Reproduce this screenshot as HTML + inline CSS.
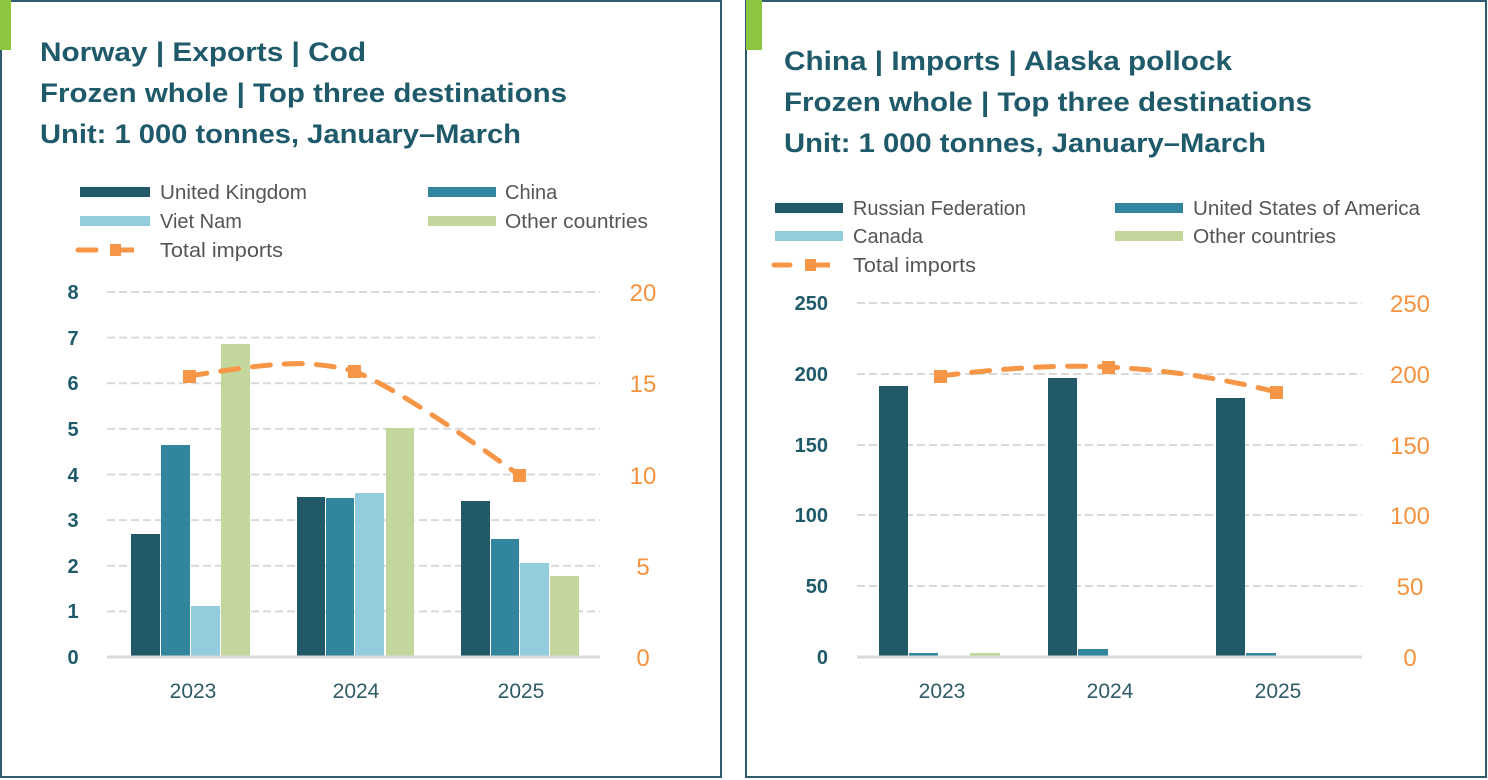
<!DOCTYPE html>
<html><head><meta charset="utf-8"><style>
html,body{margin:0;padding:0;background:#fff;width:1488px;height:780px;overflow:hidden}
svg{display:block}
.t{font-family:"Liberation Sans Narrow","Liberation Sans",sans-serif;font-weight:bold;fill:#1f5a6b;font-size:27px}
.lg{font-family:"Liberation Sans Narrow","Liberation Sans",sans-serif;fill:#555;font-size:20px}
.yl{font-family:"Liberation Sans",sans-serif;font-weight:bold;fill:#1f5a6b;font-size:20px}
.yr{font-family:"Liberation Sans",sans-serif;fill:#f4923f;font-size:24px}
.xl{font-family:"Liberation Sans Narrow","Liberation Sans",sans-serif;fill:#2e5b66;font-size:21px}
.g{stroke:#d9d9d9;stroke-width:2;stroke-dasharray:8,4}
</style></head><body>
<svg width="1488" height="780" xmlns="http://www.w3.org/2000/svg">
<rect x="1" y="1" width="720" height="776" fill="#fff" stroke="#2e5b70" stroke-width="2"/>
<rect x="746" y="1" width="740" height="776" fill="#fff" stroke="#2e5b70" stroke-width="2"/>
<rect x="0" y="0" width="11" height="50" fill="#8cc63f"/>
<rect x="746" y="0" width="16" height="50" fill="#8cc63f"/>

<text class="t" x="40" y="61" textLength="326" lengthAdjust="spacingAndGlyphs">Norway | Exports | Cod</text>
<text class="t" x="40" y="102" textLength="527" lengthAdjust="spacingAndGlyphs">Frozen whole | Top three destinations</text>
<text class="t" x="40" y="143" textLength="481" lengthAdjust="spacingAndGlyphs">Unit: 1 000 tonnes, January–March</text>

<rect x="80" y="187" width="70" height="10" fill="#215968"/>
<text class="lg" x="160" y="199" textLength="147" lengthAdjust="spacingAndGlyphs">United Kingdom</text>
<rect x="428" y="187" width="68" height="10" fill="#31859c"/>
<text class="lg" x="505" y="199">China</text>
<rect x="80" y="216" width="70" height="10" fill="#93cddd"/>
<text class="lg" x="160" y="228">Viet Nam</text>
<rect x="428" y="216" width="68" height="10" fill="#c3d69b"/>
<text class="lg" x="505" y="228" textLength="143" lengthAdjust="spacingAndGlyphs">Other countries</text>
<line x1="78" y1="250" x2="96" y2="250" stroke="#f79646" stroke-width="5" stroke-linecap="round"/>
<rect x="110" y="244" width="11" height="12" fill="#f79646"/>
<line x1="118" y1="250" x2="134" y2="250" stroke="#f79646" stroke-width="5"/>
<text class="lg" x="160" y="257" textLength="123" lengthAdjust="spacingAndGlyphs">Total imports</text>

<g>
<line class="g" x1="107" y1="292" x2="600" y2="292"/>
<line class="g" x1="107" y1="337.6" x2="600" y2="337.6"/>
<line class="g" x1="107" y1="383.3" x2="600" y2="383.3"/>
<line class="g" x1="107" y1="428.9" x2="600" y2="428.9"/>
<line class="g" x1="107" y1="474.5" x2="600" y2="474.5"/>
<line class="g" x1="107" y1="520.1" x2="600" y2="520.1"/>
<line class="g" x1="107" y1="565.8" x2="600" y2="565.8"/>
<line class="g" x1="107" y1="611.4" x2="600" y2="611.4"/>
</g>
<g class="yl" text-anchor="middle">
<text x="73" y="299">8</text><text x="73" y="345">7</text><text x="73" y="390">6</text><text x="73" y="436">5</text>
<text x="73" y="482">4</text><text x="73" y="527">3</text><text x="73" y="573">2</text><text x="73" y="618">1</text><text x="73" y="664">0</text>
</g>
<g class="yr" text-anchor="middle">
<text x="643" y="301">20</text><text x="643" y="392">15</text><text x="643" y="484">10</text><text x="643" y="575">5</text><text x="643" y="666">0</text>
</g>
<g>
<rect x="131" y="534" width="29" height="123" fill="#215968"/>
<rect x="161" y="445" width="29" height="212" fill="#31859c"/>
<rect x="191" y="606" width="29" height="51" fill="#93cddd"/>
<rect x="221" y="344" width="29" height="313" fill="#c3d69b"/>
<rect x="297" y="497" width="28" height="160" fill="#215968"/>
<rect x="326" y="498" width="28" height="159" fill="#31859c"/>
<rect x="355" y="493" width="29" height="164" fill="#93cddd"/>
<rect x="386" y="428" width="28" height="229" fill="#c3d69b"/>
<rect x="461" y="501" width="29" height="156" fill="#215968"/>
<rect x="491" y="539" width="28" height="118" fill="#31859c"/>
<rect x="520" y="563" width="29" height="94" fill="#93cddd"/>
<rect x="550" y="576" width="29" height="81" fill="#c3d69b"/>
</g>
<line x1="107" y1="657" x2="600" y2="657" stroke="#d9d9d9" stroke-width="3"/>
<g class="xl" text-anchor="middle"><text x="193" y="698">2023</text><text x="356" y="698">2024</text><text x="521" y="698">2025</text></g>
<path d="M189,376 C240,368 280,362 310,364 C335,366 345,369 354,371 C400,390 470,440 519,475" fill="none" stroke="#f79646" stroke-width="5" stroke-dasharray="18,14" stroke-linecap="round"/>
<rect x="183" y="370" width="13" height="13" fill="#f79646"/>
<rect x="348" y="365" width="13" height="13" fill="#f79646"/>
<rect x="513" y="469" width="13" height="13" fill="#f79646"/>

<text class="t" x="784" y="70" textLength="448" lengthAdjust="spacingAndGlyphs">China | Imports | Alaska pollock</text>
<text class="t" x="784" y="111" textLength="528" lengthAdjust="spacingAndGlyphs">Frozen whole | Top three destinations</text>
<text class="t" x="784" y="152" textLength="482" lengthAdjust="spacingAndGlyphs">Unit: 1 000 tonnes, January–March</text>

<rect x="775" y="203" width="68" height="10" fill="#215968"/>
<text class="lg" x="853" y="215" textLength="173" lengthAdjust="spacingAndGlyphs">Russian Federation</text>
<rect x="1115" y="203" width="68" height="10" fill="#31859c"/>
<text class="lg" x="1193" y="215" textLength="227" lengthAdjust="spacingAndGlyphs">United States of America</text>
<rect x="775" y="231" width="68" height="10" fill="#93cddd"/>
<text class="lg" x="853" y="243">Canada</text>
<rect x="1115" y="231" width="68" height="10" fill="#c3d69b"/>
<text class="lg" x="1193" y="243" textLength="143" lengthAdjust="spacingAndGlyphs">Other countries</text>
<line x1="774" y1="265" x2="790" y2="265" stroke="#f79646" stroke-width="5" stroke-linecap="round"/>
<rect x="805" y="259" width="11" height="12" fill="#f79646"/>
<line x1="812" y1="265" x2="830" y2="265" stroke="#f79646" stroke-width="5"/>
<text class="lg" x="853" y="272" textLength="123" lengthAdjust="spacingAndGlyphs">Total imports</text>

<g>
<line class="g" x1="857" y1="303" x2="1362" y2="303"/>
<line class="g" x1="857" y1="374" x2="1362" y2="374"/>
<line class="g" x1="857" y1="445" x2="1362" y2="445"/>
<line class="g" x1="857" y1="515" x2="1362" y2="515"/>
<line class="g" x1="857" y1="586" x2="1362" y2="586"/>
</g>
<g class="yl" text-anchor="end">
<text x="828" y="310">250</text><text x="828" y="381">200</text><text x="828" y="452">150</text>
<text x="828" y="522">100</text><text x="828" y="593">50</text><text x="828" y="664">0</text>
</g>
<g class="yr" text-anchor="middle">
<text x="1410" y="312">250</text><text x="1410" y="383">200</text><text x="1410" y="454">150</text>
<text x="1410" y="524">100</text><text x="1410" y="595">50</text><text x="1410" y="666">0</text>
</g>
<g>
<rect x="879" y="386" width="29" height="271" fill="#215968"/>
<rect x="909" y="653" width="29" height="4" fill="#31859c"/>
<rect x="970" y="653" width="30" height="4" fill="#c3d69b"/>
<rect x="1048" y="378" width="29" height="279" fill="#215968"/>
<rect x="1078" y="649" width="30" height="8" fill="#31859c"/>
<rect x="1216" y="398" width="29" height="259" fill="#215968"/>
<rect x="1246" y="653" width="30" height="4" fill="#31859c"/>
</g>
<line x1="857" y1="657" x2="1362" y2="657" stroke="#d9d9d9" stroke-width="3"/>
<g class="xl" text-anchor="middle"><text x="942" y="698">2023</text><text x="1110" y="698">2024</text><text x="1278" y="698">2025</text></g>
<path d="M940,376 C990,370 1050,364 1108,367 C1170,370 1230,380 1276,392" fill="none" stroke="#f79646" stroke-width="5" stroke-dasharray="18,14" stroke-linecap="round"/>
<rect x="934" y="370" width="13" height="13" fill="#f79646"/>
<rect x="1102" y="361" width="13" height="13" fill="#f79646"/>
<rect x="1270" y="386" width="13" height="13" fill="#f79646"/>
</svg>
</body></html>
